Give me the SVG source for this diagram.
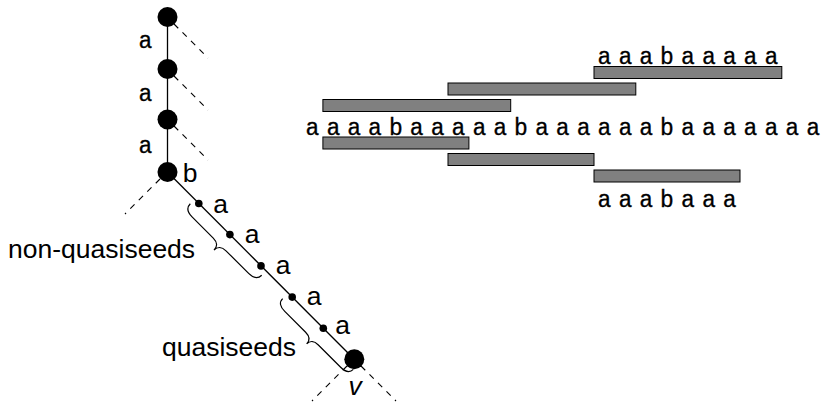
<svg xmlns="http://www.w3.org/2000/svg" width="823" height="403" viewBox="0 0 823 403">
<style>
.edge{stroke:#000;stroke-width:1.3;fill:none}
.dash{stroke:#000;stroke-width:1.1;stroke-dasharray:6 6;fill:none}
.brace{stroke:#000;stroke-width:1.2;fill:none}
.big{fill:#000}
.tt{font-family:"Liberation Mono",monospace;font-size:23px;fill:#000;stroke:#000;stroke-width:0.3}
.ss{font-family:"Liberation Sans",Arial,sans-serif;font-size:26.5px;fill:#000}
.bar{fill:#808080;stroke:#000;stroke-width:1}
</style>
<rect width="823" height="403" fill="#fff"/>
<g id="connectors">
<line class="edge" x1="167.5" y1="17" x2="167.5" y2="172"/>
<line class="edge" x1="167.5" y1="172" x2="354" y2="359"/>
<line class="dash" x1="174" y1="24" x2="208" y2="58"/>
<line class="dash" x1="174" y1="76" x2="208" y2="110"/>
<line class="dash" x1="174" y1="126" x2="208" y2="160"/>
<line class="dash" x1="160" y1="179" x2="125" y2="214"/>
<line class="dash" x1="347" y1="366" x2="312" y2="401"/>
<line class="dash" x1="361" y1="366" x2="396" y2="401"/>
</g>
<g id="n1"><circle class="big" cx="167.5" cy="17" r="10"/></g>
<g id="n2"><circle class="big" cx="167.5" cy="69" r="10"/></g>
<g id="n3"><circle class="big" cx="167.5" cy="119.5" r="10"/></g>
<g id="n4"><circle class="big" cx="167.5" cy="172" r="10"/></g>
<g id="d1"><circle class="big" cx="198.8" cy="203.5" r="3.8"/></g>
<g id="d2"><circle class="big" cx="229.9" cy="234.6" r="3.8"/></g>
<g id="d3"><circle class="big" cx="261" cy="265.9" r="3.8"/></g>
<g id="d4"><circle class="big" cx="292.2" cy="297.1" r="3.8"/></g>
<g id="d5"><circle class="big" cx="323.3" cy="328.2" r="3.8"/></g>
<g id="v"><circle class="big" cx="354.3" cy="359.3" r="10"/></g>
<g id="edge-labels">
<text class="tt" x="145.5" y="48" text-anchor="middle">a</text>
<text class="tt" x="145.5" y="101" text-anchor="middle">a</text>
<text class="tt" x="145.5" y="153" text-anchor="middle">a</text>
<text class="ss" x="190" y="182" text-anchor="middle">b</text>
<text class="ss" x="220.5" y="213" text-anchor="middle">a</text>
<text class="ss" x="252" y="243" text-anchor="middle">a</text>
<text class="ss" x="283" y="274" text-anchor="middle">a</text>
<text class="ss" x="314" y="305" text-anchor="middle">a</text>
<text class="ss" x="342.5" y="334" text-anchor="middle">a</text>
<text class="ss" x="355" y="395" text-anchor="middle" font-style="italic">v</text>
</g>
<g id="brace-nonquasi">
<path class="brace" transform="translate(226,239.5) rotate(45)" d="M-50.5,0 C-50.5,5 -47,8 -40,8 L-10,8 C-4,8 -1,11 -1,16 C-1,11 2,8 8,8 L40,8 C47,8 50.5,5 50.5,0"/>
<text class="ss" x="8" y="258">non-quasiseeds</text>
</g>
<g id="brace-quasi">
<path class="brace" transform="translate(318,334) rotate(45)" d="M-50,0 C-50,5 -46.5,7.5 -39.5,7.5 L-10,7.5 C-4,7.5 -1,10 -1,15 C-1,10 2,7.5 8,7.5 L39.5,7.5 C46.5,7.5 50,5 50,0"/>
<text class="ss" x="162" y="356">quasiseeds</text>
</g>
<g id="strings">
<rect class="bar" x="594" y="66.5" width="187.8" height="12"/>
<rect class="bar" x="448" y="83" width="187.8" height="12"/>
<rect class="bar" x="322.9" y="99.5" width="187.8" height="12"/>
<rect class="bar" x="322.9" y="137" width="146" height="12"/>
<rect class="bar" x="448" y="153.5" width="146" height="12"/>
<rect class="bar" x="594" y="170" width="146" height="12"/>
<text class="tt" y="64" text-anchor="middle" x="604.5 625.3 646.2 667.0 687.9 708.8 729.6 750.5 771.3">aaabaaaaa</text>
<text class="tt" y="135" text-anchor="middle" x="312.4 333.3 354.1 375.0 395.9 416.7 437.6 458.4 479.3 500.2 521.0 541.9 562.7 583.6 604.5 625.3 646.2 667.0 687.9 708.8 729.6 750.5 771.3 792.2 813.1">aaaabaaaaabaaaaaabaaaaaaa</text>
<text class="tt" y="207" text-anchor="middle" x="604.5 625.3 646.2 667.0 687.9 708.8 729.6">aaabaaa</text>
</g>
</svg>
